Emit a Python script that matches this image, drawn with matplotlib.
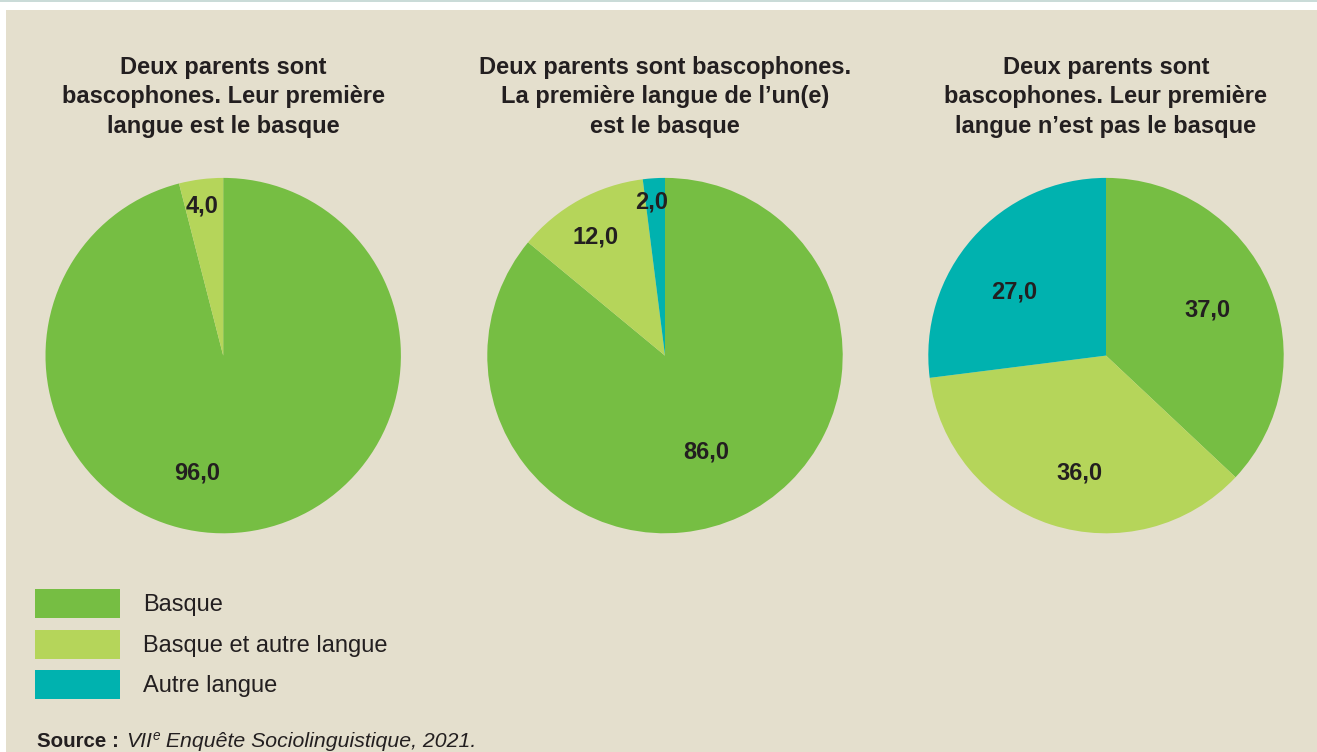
import matplotlib
matplotlib.use("Agg")
import matplotlib.pyplot as plt
from matplotlib.patches import Rectangle
import numpy as np

# ---------------- data ----------------
categories = ["Basque", "Basque et autre langue", "Autre langue"]
titles = [
    "Deux parents sont\nbascophones. Leur première\nlangue est le basque",
    "Deux parents sont bascophones.\nLa première langue de l\u2019un(e)\nest le basque",
    "Deux parents sont\nbascophones. Leur première\nlangue n\u2019est pas le basque",
]
pie1_values = [96.0, 4.0, 0.0]
pie2_values = [86.0, 12.0, 2.0]
pie3_values = [37.0, 36.0, 27.0]
source_bold = "Source :"
source_italic_1 = "VII"
source_sup = "e"
source_italic_2 = " Enquête Sociolinguistique, 2021."

# ---------------- style ----------------
colors = ["#76BE43", "#B5D55A", "#00B2AF"]
bg = "#E4DFCD"
txt = "#231F20"
plt.rcParams["font.family"] = ["Liberation Sans", "DejaVu Sans"]

# label placement per pie: (radial fraction, angle shift in degrees)
label_r = [[0.675, 0.848, 0.8], [0.59, 0.77, 0.87], [0.625, 0.68, 0.63]]
label_shift = [[-19.7, 0.8, 0.0], [-2.3, 1.5, 1.2], [1.1, 5.1, 6.6]]

W, H = 1317, 752
fig = plt.figure(figsize=(W / 100, H / 100), dpi=100)
fig.patch.set_facecolor("white")
fig.patches.append(Rectangle((6 / W, 0), (W - 6) / W, (H - 10) / H,
                             transform=fig.transFigure, facecolor=bg,
                             edgecolor="none", zorder=-2))
fig.patches.append(Rectangle((0, (H - 2) / H), 1, 2 / H,
                             transform=fig.transFigure, facecolor="#CADBD8",
                             edgecolor="none", zorder=-2))

centers_x = [223.2, 665.0, 1106.0]
cy = 355.6
R = 177.7
all_values = [pie1_values, pie2_values, pie3_values]

for i, (cx, vals, title) in enumerate(zip(centers_x, all_values, titles)):
    ax = fig.add_axes([(cx - R) / W, (H - cy - R) / H, 2 * R / W, 2 * R / H])
    ax.set_zorder(1)
    wedges, _ = ax.pie(vals, colors=colors, startangle=90, counterclock=False,
                       radius=1, wedgeprops=dict(linewidth=0))
    ax.set_xlim(-1, 1)
    ax.set_ylim(-1, 1)
    ax.axis("off")
    for j, (w, v) in enumerate(zip(wedges, vals)):
        if v <= 0:
            continue
        mid = np.deg2rad((w.theta1 + w.theta2) / 2 + label_shift[i][j])
        r = label_r[i][j]
        ax.text(r * np.cos(mid), r * np.sin(mid), f"{v:.1f}".replace(".", ","),
                ha="center", va="center", fontsize=17, fontweight="bold",
                color=txt)
    fig.text(cx / W, 1 - 97 / H, title, ha="center", va="center",
             fontsize=17, fontweight="bold", color=txt, linespacing=1.36)

# legend
leg_y = [589, 630, 670]
for col, lab, y in zip(colors, categories, leg_y):
    fig.patches.append(Rectangle((35 / W, 1 - (y + 29) / H), 85 / W, 29 / H,
                                 transform=fig.transFigure, facecolor=col,
                                 edgecolor="none", zorder=1))
    fig.text(143 / W, 1 - (y + 16) / H, lab, ha="left", va="center",
             fontsize=17, color=txt)

# source
fig.canvas.draw()
renderer = fig.canvas.get_renderer()
y_src = 1 - 747 / H
t = fig.text(37 / W, y_src, source_bold, ha="left", va="baseline",
             fontsize=14.8, fontweight="bold", color=txt)
x = t.get_window_extent(renderer).x1 + 7
t = fig.text(x / W, y_src, source_italic_1, ha="left", va="baseline",
             fontsize=15.3, fontstyle="italic", color=txt)
x = t.get_window_extent(renderer).x1 + 1
t = fig.text(x / W, y_src + 7 / H, source_sup, ha="left", va="baseline",
             fontsize=9.8, fontstyle="italic", color=txt)
x = t.get_window_extent(renderer).x1
fig.text(x / W, y_src, source_italic_2, ha="left", va="baseline",
         fontsize=15.3, fontstyle="italic", color=txt)

fig.savefig("out.png", dpi=100, facecolor=fig.get_facecolor())
